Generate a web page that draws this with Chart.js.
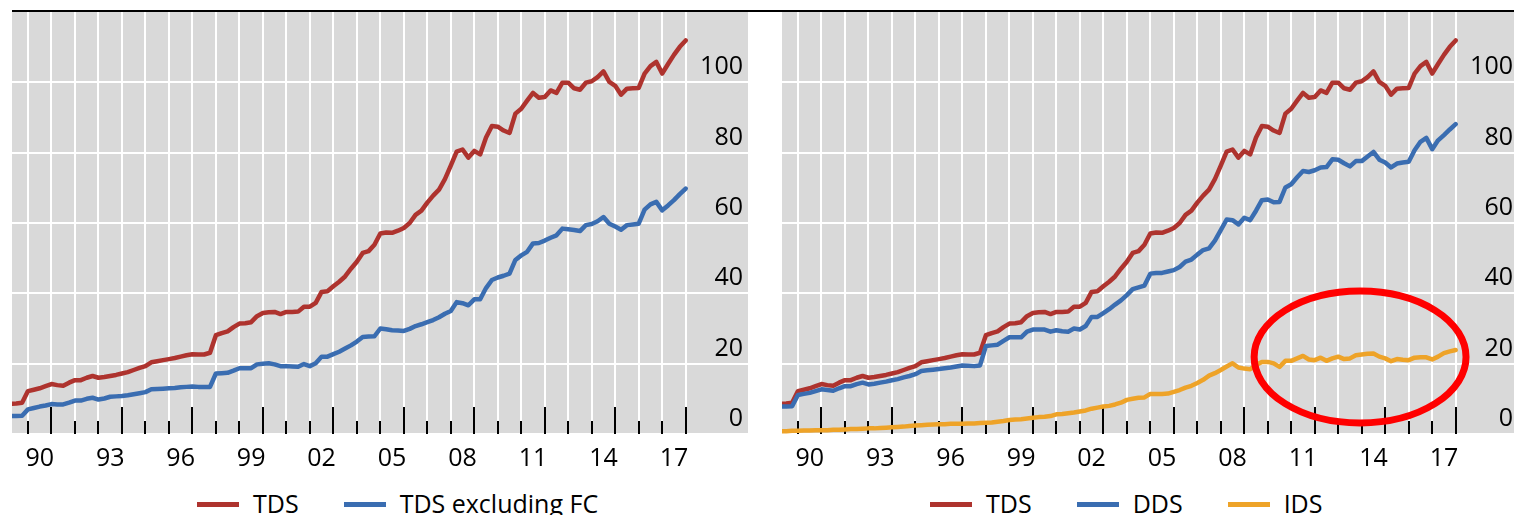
<!DOCTYPE html>
<html>
<head>
<meta charset="utf-8">
<script src="https://cdn.jsdelivr.net/npm/chart.js@4.4.1/dist/chart.umd.min.js"></script>
<style>
html,body{margin:0;padding:0;background:#fff;}
body{width:1514px;height:515px;overflow:hidden;position:relative;font-family:'Open Sans',sans-serif;}
.panel{position:absolute;top:0;width:757px;height:484px;}
#p1{left:0;}
#p2{left:770px;}
#topline{position:absolute;left:12px;top:10px;width:1502px;height:2px;background:#000;z-index:5;}
.legend{position:absolute;top:488px;display:flex;align-items:center;font-size:25px;color:#000;white-space:nowrap;line-height:30px;z-index:6;}
.legend .item{display:flex;align-items:center;margin-right:45px;}
.legend .sw{display:inline-block;width:42px;height:5px;margin-right:14px;margin-top:3px;}
</style>
</head>
<body>
<div class="panel" id="p1"><canvas id="c1"></canvas></div>
<div class="panel" id="p2"><canvas id="c2"></canvas></div>
<div id="topline"></div>
<div class="legend" id="leg1" style="left:197px;"></div>
<div class="legend" id="leg2" style="left:930px;"></div>
<script>
// ---------------- DATA ----------------
// Years covered (quarterly observations, 4 per year, Q1..Q4)
const years = [1989,1990,1991,1992,1993,1994,1995,1996,1997,1998,1999,2000,2001,2002,2003,
               2004,2005,2006,2007,2008,2009,2010,2011,2012,2013,2014,2015,2016,2017];

// Total debt service (TDS) – quarterly
const tds = [
  8.6, 8.7, 8.9, 12.2,
  12.6, 13.0, 13.6, 14.2,
  13.9, 13.7, 14.6, 15.3,
  15.3, 16.0, 16.5, 16.0,
  16.2, 16.5, 16.8, 17.2,
  17.6, 18.2, 18.8, 19.3,
  20.4, 20.7, 21.0, 21.3,
  21.6, 22.0, 22.4, 22.7,
  22.6, 22.6, 23.1, 28.1,
  28.7, 29.2, 30.4, 31.4,
  31.5, 31.8, 33.5, 34.4,
  34.6, 34.7, 34.1, 34.7,
  34.7, 34.8, 36.2, 36.2,
  37.3, 40.4, 40.6, 42.0,
  43.3, 44.8, 47.0, 49.0,
  51.5, 52.0, 53.8, 57.0,
  57.3, 57.2, 57.8, 58.6,
  60.0, 62.3, 63.5, 65.8,
  67.8, 69.5, 72.5, 76.3,
  80.3, 80.9, 78.6, 80.5,
  79.5, 84.3, 87.6, 87.4,
  86.3, 85.6, 91.1, 92.5,
  94.8, 97.0, 95.6, 95.8,
  97.7, 97.0, 99.9, 99.9,
  98.3, 97.9, 99.9, 100.3,
  101.5, 103.1, 100.1, 99.0,
  96.5, 98.2, 98.3, 98.4,
  102.5, 104.6, 105.8, 102.5,
  105.2, 107.8, 110.1, 111.9
];

// TDS excluding FC – quarterly
const tdsExFc = [
  5.1, 5.1, 5.2, 7.0,
  7.4, 7.8, 8.1, 8.5,
  8.4, 8.4, 8.9, 9.5,
  9.5, 10.0, 10.3, 9.8,
  10.1, 10.6, 10.7, 10.8,
  11.0, 11.3, 11.6, 11.9,
  12.7, 12.8, 12.9, 13.0,
  13.1, 13.3, 13.4, 13.5,
  13.4, 13.4, 13.4, 17.2,
  17.3, 17.4, 18.0, 18.7,
  18.7, 18.7, 19.8, 20.0,
  20.1, 19.8, 19.3, 19.3,
  19.2, 19.1, 19.9, 19.3,
  20.1, 22.0, 22.0, 22.7,
  23.4, 24.3, 25.2, 26.3,
  27.6, 27.7, 27.8, 30.0,
  29.8, 29.5, 29.4, 29.3,
  29.9, 30.7, 31.2, 31.8,
  32.4, 33.2, 34.2, 35.0,
  37.5, 37.2, 36.6, 38.3,
  38.3, 41.5, 43.8, 44.5,
  45.0, 45.6, 49.5, 50.8,
  51.8, 54.2, 54.3, 55.0,
  55.8, 56.5, 58.4, 58.2,
  58.0, 57.7, 59.4, 59.7,
  60.5, 61.7, 59.8, 59.0,
  58.1, 59.4, 59.6, 59.8,
  63.8, 65.3, 66.0, 63.6,
  65.0, 66.5, 68.2, 69.8
];

// Domestic debt service (DDS) – quarterly
const dds = [
  7.8, 7.8, 7.9, 11.1,
  11.4, 11.7, 12.2, 12.7,
  12.5, 12.3, 13.0, 13.6,
  13.6, 14.2, 14.6, 14.1,
  14.3, 14.6, 14.9, 15.3,
  15.6, 16.1, 16.5, 17.0,
  17.9, 18.1, 18.3, 18.5,
  18.7, 18.9, 19.2, 19.5,
  19.4, 19.3, 19.5, 25.0,
  25.2, 25.4, 26.5, 27.5,
  27.5, 27.5, 29.1, 29.7,
  29.7, 29.7, 29.1, 29.5,
  29.2, 29.1, 30.0, 29.7,
  30.7, 33.3, 33.3, 34.4,
  35.5, 36.8, 38.0, 39.5,
  41.2, 41.7, 42.2, 45.6,
  45.8, 45.8, 46.2, 46.6,
  47.5, 49.0, 49.6, 51.0,
  52.3, 52.8, 55.0, 58.0,
  61.0, 60.8, 59.6, 61.5,
  60.8, 63.5, 66.5, 66.7,
  65.9, 66.0, 70.1, 71.0,
  73.0, 74.8, 74.5, 75.0,
  75.8, 75.9, 78.1, 78.0,
  77.0, 76.1, 77.6, 77.6,
  78.9, 80.2, 78.0, 77.2,
  75.8, 76.9, 77.2, 77.4,
  80.7, 83.1, 84.2, 81.0,
  83.5, 85.0, 86.6, 88.1
];

// International debt service (IDS) – quarterly
const ids = [
  0.8, 0.8, 0.9, 0.9,
  1.0, 1.0, 1.1, 1.1,
  1.1, 1.2, 1.2, 1.3,
  1.4, 1.4, 1.5, 1.6,
  1.6, 1.7, 1.8, 1.9,
  2.0, 2.1, 2.3, 2.4,
  2.5, 2.6, 2.7, 2.8,
  2.8, 2.9, 2.9, 2.9,
  3.0, 3.0, 3.1, 3.2,
  3.3, 3.5, 3.7, 4.0,
  4.1, 4.2, 4.4, 4.6,
  4.8, 4.9, 5.1, 5.6,
  5.7, 5.9, 6.1, 6.4,
  6.7, 7.2, 7.5, 7.8,
  8.0, 8.4, 8.9, 9.7,
  10.0, 10.3, 10.4, 11.4,
  11.4, 11.4, 11.5, 12.0,
  12.5, 13.2, 13.7, 14.5,
  15.4, 16.6, 17.3, 18.2,
  19.2, 20.1, 18.9, 18.6,
  18.4, 19.6, 20.5, 20.5,
  20.1, 19.1, 20.8, 20.8,
  21.5, 22.2, 21.2, 21.0,
  21.7, 20.8, 21.5, 22.0,
  21.3, 21.5, 22.4, 22.6,
  22.8, 22.9, 22.0, 21.5,
  20.7, 21.3, 21.1, 21.0,
  21.7, 21.8, 21.8, 21.2,
  22.0, 23.0, 23.5, 23.9
];

// Axis ticks
const gridYears = [1990,1991,1992,1993,1994,1995,1996,1997,1998,1999,2000,2001,2002,2003,
                   2004,2005,2006,2007,2008,2009,2010,2011,2012,2013,2014,2015,2016,2017,2018];
const labelYears = [1990,1993,1996,1999,2002,2005,2008,2011,2014,2017];
const longTickYears = [1991,1994,1997,2000,2003,2006,2009,2012,2015,2018];
const yTickValues = [0,20,40,60,80,100,120];

// Highlight ellipse annotation (data units: centre year, centre value, radii)
const highlight = {x: 2013.93, y: 21.9, rx: 4.51, ry: 18.75};

// ---------------- STYLE ----------------
const RED = '#AE332E', BLUE = '#3A6DB1', ORANGE = '#EEA328', GREY = '#D9D9D9';
const FONT = "'Open Sans', sans-serif";

Chart.defaults.font.family = FONT;
Chart.defaults.color = '#000';

function toPoints(values) {
  const pts = [];
  years.forEach((yr, i) => {
    for (let q = 1; q <= 4; q++) {
      pts.push({x: yr + q / 4, y: values[i * 4 + (q - 1)]});
    }
  });
  return pts;
}

const bgPlugin = {
  id: 'panelBg',
  beforeDraw(chart) {
    const {ctx, chartArea: a, scales: {y}} = chart;
    ctx.save();
    ctx.fillStyle = GREY;
    ctx.fillRect(a.left, a.top, y.right - a.left, a.bottom - a.top);
    ctx.restore();
  }
};

const innerTickPlugin = {
  id: 'innerTicks',
  beforeDatasetsDraw(chart) {
    const {ctx, chartArea: a, scales: {x}} = chart;
    ctx.save();
    ctx.strokeStyle = '#000';
    ctx.lineWidth = 2;
    gridYears.forEach(yr => {
      const px = Math.round(x.getPixelForValue(yr));
      const len = longTickYears.includes(yr) ? 27 : 13;
      ctx.beginPath();
      ctx.moveTo(px, a.bottom);
      ctx.lineTo(px, a.bottom - len);
      ctx.stroke();
    });
    ctx.restore();
  }
};

const ellipsePlugin = {
  id: 'highlightEllipse',
  afterDatasetsDraw(chart) {
    const {ctx, scales: {x, y}} = chart;
    const cx = x.getPixelForValue(highlight.x);
    const cy = y.getPixelForValue(highlight.y);
    const rx = Math.abs(x.getPixelForValue(highlight.x + highlight.rx) - cx);
    const ry = Math.abs(y.getPixelForValue(highlight.y + highlight.ry) - cy);
    ctx.save();
    ctx.strokeStyle = '#FF0000';
    ctx.lineWidth = 7;
    ctx.beginPath();
    ctx.ellipse(cx, cy, rx, ry, 0, 0, Math.PI * 2);
    ctx.stroke();
    ctx.restore();
  }
};

function lineDs(label, values, color, order) {
  return {
    label, data: toPoints(values), borderColor: color, backgroundColor: color,
    borderWidth: 4.5, pointRadius: 0, tension: 0, fill: false, order,
    borderJoinStyle: 'round', borderCapStyle: 'round'
  };
}

function makeChart(id, datasets, extraPlugins) {
  return new Chart(document.getElementById(id), {
    type: 'line',
    data: {datasets},
    plugins: [bgPlugin, innerTickPlugin].concat(extraPlugins),
    options: {
      responsive: true,
      maintainAspectRatio: false,
      animation: false,
      devicePixelRatio: 1,
      layout: {padding: {top: 12, left: 12, right: 9, bottom: 0}},
      plugins: {legend: {display: false}, tooltip: {enabled: false}},
      scales: {
        x: {
          type: 'linear',
          min: 1989.32,
          max: 2020.44,
          afterBuildTicks: (scale) => { scale.ticks = gridYears.map(v => ({value: v})); },
          grid: {color: '#FFFFFF', lineWidth: 2, drawTicks: false},
          border: {display: false},
          ticks: {
            autoSkip: false, maxRotation: 0, minRotation: 0,
            padding: 10, labelOffset: 11.75,
            font: {size: 25, family: FONT}, color: '#000',
            callback: (v) => labelYears.includes(v) ? String(v).slice(2) : ''
          }
        },
        y: {
          position: 'right',
          min: 0, max: 120,
          afterBuildTicks: (scale) => { scale.ticks = yTickValues.map(v => ({value: v})); },
          grid: {color: '#FFFFFF', lineWidth: 2, drawTicks: true, tickLength: 5},
          border: {display: false},
          ticks: {
            mirror: true, padding: 0, labelOffset: -15,
            font: {size: 25, family: FONT, lineHeight: 0.9}, color: '#000',
            callback: (v) => v === 120 ? null : String(v)
          }
        }
      }
    }
  });
}

makeChart('c1', [
  lineDs('TDS', tds, RED, 2),
  lineDs('TDS excluding FC', tdsExFc, BLUE, 1)
], []);

makeChart('c2', [
  lineDs('TDS', tds, RED, 3),
  lineDs('DDS', dds, BLUE, 2),
  lineDs('IDS', ids, ORANGE, 1)
], [ellipsePlugin]);

// ---------------- LEGENDS ----------------
function buildLegend(elId, items) {
  const el = document.getElementById(elId);
  items.forEach(([text, color]) => {
    const it = document.createElement('span');
    it.className = 'item';
    const sw = document.createElement('span');
    sw.className = 'sw';
    sw.style.background = color;
    const tx = document.createElement('span');
    tx.textContent = text;
    it.appendChild(sw); it.appendChild(tx);
    el.appendChild(it);
  });
}
buildLegend('leg1', [['TDS', RED], ['TDS excluding FC', BLUE]]);
buildLegend('leg2', [['TDS', RED], ['DDS', BLUE], ['IDS', ORANGE]]);
</script>
</body>
</html>
